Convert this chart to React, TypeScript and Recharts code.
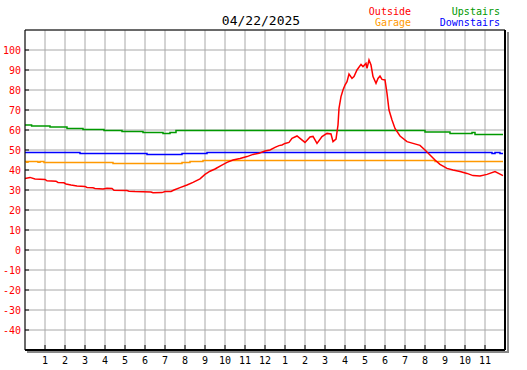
import { CartesianGrid, Line, LineChart, XAxis, YAxis } from 'recharts';

const MONO = '"DejaVu Sans Mono", monospace';

const hourTicks = [1, 2, 3, 4, 5, 6, 7, 8, 9, 10, 11, 12, 13, 14, 15, 16, 17, 18, 19, 20, 21, 22, 23];
const tempTicks = [-40, -30, -20, -10, 0, 10, 20, 30, 40, 50, 60, 70, 80, 90, 100];

// [hour of day, temperature]
const outside = [
  [0, 35.8], [0.25, 36.3], [0.5, 35.5], [1.0, 35.3], [1.1, 34.6], [1.55, 34.4], [1.65, 33.8],
  [1.95, 33.6], [2.05, 33.0], [2.3, 32.5], [2.6, 32.0], [3.0, 31.8], [3.1, 31.3], [3.4, 31.1],
  [3.5, 30.8], [3.9, 30.5], [4.1, 30.9], [4.35, 30.8], [4.45, 29.9], [5.1, 29.7], [5.2, 29.4],
  [5.5, 29.2], [6.3, 29.0], [6.4, 28.6], [6.85, 28.7], [7.0, 29.2], [7.3, 29.3], [7.45, 30.0],
  [7.75, 31.2], [8.1, 32.5], [8.4, 33.8], [8.75, 35.6], [9.0, 37.8], [9.25, 39.4], [9.5, 40.5],
  [9.8, 42.2], [10.1, 43.8], [10.4, 45.0], [10.75, 45.8], [11.1, 46.7], [11.4, 47.8], [11.7, 48.4],
  [12.0, 49.5], [12.25, 50.0], [12.5, 51.3], [12.7, 52.2], [12.85, 52.5], [13.0, 53.3], [13.2, 53.8],
  [13.35, 55.8], [13.6, 57.0], [13.75, 55.8], [14.0, 53.8], [14.25, 56.5], [14.4, 56.8], [14.6, 53.3],
  [14.85, 56.7], [15.1, 58.3], [15.3, 58.0], [15.4, 54.2], [15.55, 55.5], [15.65, 62.5], [15.7, 70.8],
  [15.8, 76.7], [15.9, 80.0], [16.0, 82.5], [16.1, 84.2], [16.2, 88.0], [16.35, 85.8], [16.45, 86.7],
  [16.6, 90.0], [16.8, 92.8], [16.9, 91.7], [17.05, 93.3], [17.1, 90.8], [17.2, 95.0], [17.3, 92.5],
  [17.4, 86.7], [17.55, 83.3], [17.65, 85.8], [17.75, 87.0], [17.85, 85.3], [18.0, 85.0], [18.1, 78.3],
  [18.2, 70.0], [18.35, 65.0], [18.5, 60.8], [18.75, 57.0], [19.1, 54.2], [19.4, 53.3], [19.75, 52.3],
  [20.0, 50.0], [20.25, 47.5], [20.5, 45.0], [20.75, 42.8], [21.1, 40.8], [21.4, 40.0], [21.75, 39.2],
  [22.1, 38.3], [22.4, 37.2], [22.75, 37.0], [23.1, 37.8], [23.5, 39.2], [23.9, 37.2],
];

const garage = [
  [0, 44.3], [0.08, 43.9], [0.15, 44.3], [0.65, 43.9], [0.75, 44.3], [0.95, 43.8], [4.4, 43.3],
  [7.85, 43.8], [8.25, 44.3], [8.9, 44.8], [20.5, 44.3], [23.9, 44.3],
];

const upstairs = [
  [0, 62.5], [0.33, 62.0], [1.25, 61.5], [2.1, 60.8], [2.9, 60.3], [3.95, 59.8], [4.85, 59.3],
  [5.9, 58.8], [6.9, 58.3], [7.25, 58.8], [7.55, 59.7], [20.0, 59.0], [21.25, 58.3], [22.35, 58.7],
  [22.5, 57.8], [23.9, 57.8],
];

const downstairs = [
  [0, 48.8], [2.75, 48.3], [6.1, 47.8], [7.85, 48.3], [9.1, 48.8], [23.35, 48.3], [23.5, 48.8],
  [23.75, 48.3], [23.9, 48.3],
];

const toPoints = (rows: number[][]) => rows.map(([h, v]) => ({ h, v }));

const hourLabel = (h: number) => (h > 12 ? h - 12 : h);

const YTick = ({ x, y, payload }: any) => (
  <g>
    <line x1={x + 4} x2={x + 8} y1={y} y2={y} stroke="#000" />
    <text x={x} y={y} dy={3.5} textAnchor="end" fill="#ff0000" fontSize={10} fontFamily={MONO}>
      {payload.value}
    </text>
  </g>
);

const XTick = ({ x, y, payload }: any) => (
  <g>
    <line x1={x} x2={x} y1={y - 5} y2={y} stroke="#000" />
    <text x={x} y={y} dy={14} textAnchor="middle" fill="#000" fontSize={10} fontFamily={MONO}>
      {hourLabel(payload.value)}
    </text>
  </g>
);

export default function App() {
  return (
    <div style={{ position: 'absolute', left: 0, top: 0, width: 527, height: 370, background: '#fff' }}>
      <LineChart width={527} height={370} margin={{ top: 0, right: 0, bottom: 0, left: 0 }}>
        <CartesianGrid stroke="#a8a8a8" />
        <XAxis
          dataKey="h"
          type="number"
          domain={[0, 24]}
          ticks={hourTicks}
          interval={0}
          height={20}
          tickSize={0}
          tickMargin={0}
          tick={<XTick />}
          axisLine={{ stroke: '#000', strokeWidth: 2 }}
          allowDataOverflow
        />
        <XAxis
          xAxisId="top"
          orientation="top"
          type="number"
          domain={[0, 24]}
          height={30}
          tick={false}
          tickLine={false}
          axisLine={{ stroke: '#000' }}
        />
        <YAxis
          type="number"
          domain={[-50, 110]}
          ticks={tempTicks}
          interval={0}
          width={25}
          tickSize={0}
          tickMargin={4}
          tick={<YTick />}
          axisLine={{ stroke: '#000' }}
          allowDataOverflow
        />
        <YAxis
          yAxisId="right"
          orientation="right"
          type="number"
          domain={[-50, 110]}
          width={22}
          tick={false}
          tickLine={false}
          axisLine={{ stroke: '#000', strokeWidth: 2 }}
        />
        <Line data={toPoints(upstairs)} dataKey="v" type="stepAfter" stroke="#009900" strokeWidth={1.5} dot={false} isAnimationActive={false} />
        <Line data={toPoints(downstairs)} dataKey="v" type="stepAfter" stroke="#0000ff" strokeWidth={1.5} dot={false} isAnimationActive={false} />
        <Line data={toPoints(garage)} dataKey="v" type="stepAfter" stroke="#ff9900" strokeWidth={1.5} dot={false} isAnimationActive={false} />
        <Line data={toPoints(outside)} dataKey="v" type="linear" stroke="#ff0000" strokeWidth={1.5} dot={false} isAnimationActive={false} />
      </LineChart>
      <div style={{ position: 'absolute', left: 507, top: 32, width: 2, height: 321, background: '#888' }} />
      <div style={{ position: 'absolute', left: 27, top: 351, width: 482, height: 2, background: '#888' }} />
      <svg width={527} height={40} style={{ position: 'absolute', left: 0, top: 0 }}>
        <text x={261} y={25} textAnchor="middle" fontSize={13} fontFamily={MONO} fill="#000">04/22/2025</text>
        <text x={411} y={15} textAnchor="end" fontSize={10} fontFamily={MONO} fill="#ff0000">Outside</text>
        <text x={411} y={26} textAnchor="end" fontSize={10} fontFamily={MONO} fill="#ff9900">Garage</text>
        <text x={500} y={15} textAnchor="end" fontSize={10} fontFamily={MONO} fill="#009900">Upstairs</text>
        <text x={500} y={26} textAnchor="end" fontSize={10} fontFamily={MONO} fill="#0000ff">Downstairs</text>
      </svg>
    </div>
  );
}
